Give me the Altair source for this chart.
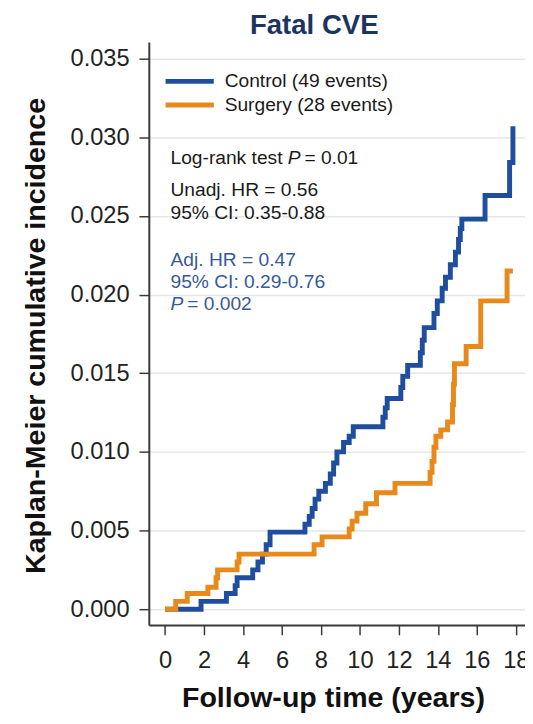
import altair as alt
import pandas as pd

# ---- data ----
ctrl_t = [0, 1.85, 3.15, 3.6, 3.7, 4.5, 4.77, 5.0, 5.19, 5.39, 7.18, 7.4, 7.55, 7.7, 7.89,
          8.23, 8.48, 8.65, 8.82, 9.16, 9.45, 9.66, 11.18, 11.3, 11.4, 12.1, 12.2, 12.45,
          13.1, 13.2, 13.3, 13.8, 13.97, 14.22, 14.39, 14.64, 14.9, 15.06, 15.15, 15.23,
          16.42, 17.68, 17.85]
ctrl_v = [0, .0005, .0010, .0015, .0020, .0025, .0030, .0035, .0041, .0049, .0054, .0059,
          .0064, .0070, .0075, .0080, .0086, .0093, .0100, .0106, .0110, .0116, .0122,
          .0128, .0134, .0141, .0148, .0155, .0163, .0171, .0179, .0188, .0196, .0204,
          .0211, .0219, .0227, .0235, .0242, .0248, .0263, .0284, .0307]

surg_t = [0, 0.55, 1.14, 2.2, 2.62, 2.7, 3.7, 3.8, 7.65, 8.06, 9.45, 9.6, 9.85, 10.3,
          10.85, 11.8, 13.6, 13.7, 13.8, 13.9, 14.15, 14.5, 14.75, 14.8, 14.85, 15.45,
          16.2, 17.55, 17.85]
surg_v = [0, .0005, .0010, .0014, .0020, .0025, .0030, .0035, .0041, .0046, .0051, .0056,
          .0061, .0067, .0074, .0080, .0087, .0094, .0103, .0110, .0114, .0119, .0130,
          .0143, .0156, .0167, .0196, .0215, .0215]

groups = ["Control", "Surgery"]
legend_labels = ["Control (49 events)", "Surgery (28 events)"]
x_ticks = list(range(0, 19, 2))
y_ticks = [0.0, 0.005, 0.010, 0.015, 0.020, 0.025, 0.030, 0.035]

# ---- styles ----
BLUE = "#1f4e9e"
ORANGE = "#e8891c"
TEXT_BLUE = "#36599b"
DARK = "#1a1a1a"
NAVY = "#1b3560"
FONT = "Liberation Sans"

df = pd.concat([
    pd.DataFrame({"t": ctrl_t, "v": ctrl_v, "group": groups[0]}),
    pd.DataFrame({"t": surg_t, "v": surg_v, "group": groups[1]}),
])

lines = alt.Chart(df).mark_line(interpolate="step-after", strokeWidth=5).encode(
    x=alt.X("t:Q",
            scale=alt.Scale(domain=[-0.83, 18.47], nice=False, zero=False),
            axis=alt.Axis(values=x_ticks, title="Follow-up time (years)", grid=False,
                          labelFontSize=24, labelPadding=14, tickSize=10,
                          titleFontSize=29, titleX=187, titleY=83,
                          titleBaseline="alphabetic", titleAlign="center")),
    y=alt.Y("v:Q",
            scale=alt.Scale(domain=[-0.001, 0.03606], nice=False, zero=False),
            axis=alt.Axis(values=y_ticks, format=".3f",
                          title="Kaplan-Meier cumulative incidence", grid=True,
                          labelFontSize=24, labelPadding=10, tickSize=10,
                          titleFontSize=29, titleAngle=270, titleX=-106, titleY=298,
                          titleBaseline="alphabetic", titleAlign="center")),
    color=alt.Color("group:N", scale=alt.Scale(domain=groups, range=[BLUE, ORANGE]),
                    legend=None),
    order=alt.Order("group:N"),
)

layers = [lines]

# legend (drawn inside the plot, top-left)
legend_rows = [40, 64]
for g, lab, col, ry in zip(groups, legend_labels, [BLUE, ORANGE], legend_rows):
    d = pd.DataFrame({"label": [lab]})
    layers.append(alt.Chart(d).mark_rule(color=col, strokeWidth=5).encode(
        x=alt.value(17), x2=alt.value(66), y=alt.value(ry)))
    layers.append(alt.Chart(d).mark_text(align="left", baseline="middle", font=FONT,
                                         fontSize=19.5, color=DARK).encode(
        text="label:N", x=alt.value(77), y=alt.value(ry)))

# annotations
annotations = [
    ("Log-rank test", 22, 124, DARK, "normal"),
    ("P", 141, 124, DARK, "italic"),
    ("= 0.01", 158, 124, DARK, "normal"),
    ("Unadj. HR = 0.56", 22, 156, DARK, "normal"),
    ("95% CI: 0.35-0.88", 22, 180, DARK, "normal"),
    ("Adj. HR = 0.47", 22, 228, TEXT_BLUE, "normal"),
    ("95% CI: 0.29-0.76", 22, 250, TEXT_BLUE, "normal"),
    ("P", 22, 272, TEXT_BLUE, "italic"),
    ("= 0.002", 39, 272, TEXT_BLUE, "normal"),
]
for txt, px, py, col, style in annotations:
    d = pd.DataFrame({"label": [txt]})
    layers.append(alt.Chart(d).mark_text(align="left", baseline="alphabetic", font=FONT,
                                         fontSize=19.5, color=col, fontStyle=style).encode(
        text="label:N", x=alt.value(px), y=alt.value(py)))

# title
layers.append(alt.Chart(pd.DataFrame({"label": ["Fatal CVE"]})).mark_text(
    align="center", baseline="alphabetic", font=FONT, fontSize=28, fontWeight="bold",
    color=NAVY).encode(text="label:N", x=alt.value(168), y=alt.value(-8)))

chart = alt.layer(*layers).properties(
    width=382, height=592,
    autosize=alt.AutoSizeParams(type="none"),
    padding={"left": 143, "top": 29, "right": 0, "bottom": 89},
    background="white",
).configure_view(stroke=None).configure_axis(
    labelFont=FONT, titleFont=FONT, labelColor="#222222", titleColor="#111111",
    titleFontWeight="bold", domainColor="#3a3a3a", domainWidth=2,
    tickColor="#3a3a3a", tickWidth=1.5, gridColor="#e6e6e6", gridWidth=1.5,
)

chart.save("out.html", embed_options={"renderer": "svg", "actions": False})
